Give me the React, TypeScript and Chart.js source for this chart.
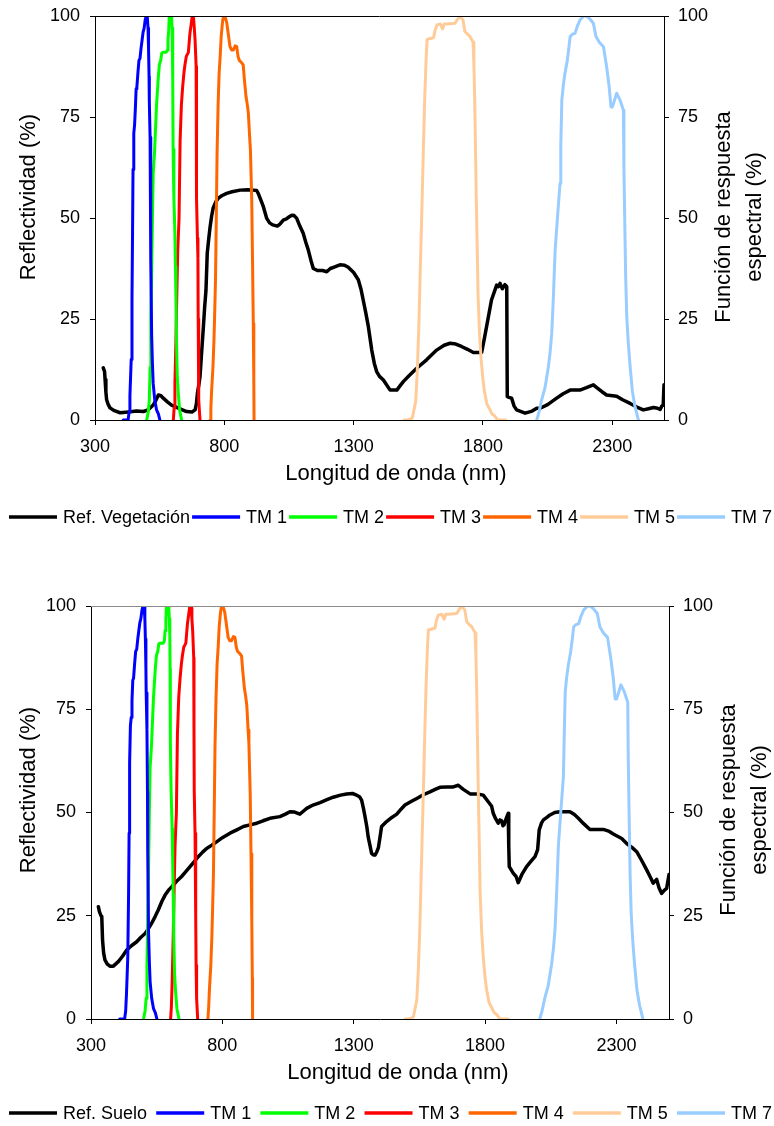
import React, { useEffect, useRef } from 'react';
import { Chart, registerables } from 'chart.js';

Chart.register(...registerables);

const FONT = '"Liberation Sans", Arial, Helvetica, sans-serif';
Chart.defaults.font.family = FONT;

// ---------- axis ticks ----------
const xTickValues = [300, 800, 1300, 1800, 2300];
const yTickValues = [0, 25, 50, 75, 100];

// ---------- Landsat TM band response functions (%) ----------
const tm1Nm = [409, 428, 432, 435, 440, 443, 445, 447, 450, 453, 456, 459, 462, 466, 470, 474, 478, 482, 486, 490, 494, 498, 502, 505, 507, 509, 510, 513, 515, 516, 519, 522, 525, 531, 538, 545, 551];
const tm1Resp = [0, 0, 2, 6, 15, 30, 45, 62, 71, 73, 77, 82, 82.5, 86, 89, 89.5, 92, 94, 96, 97, 99, 100, 100, 97, 92, 85, 79, 70, 55, 40, 21, 14, 9, 5, 2.5, 1.5, 0];

const tm2Nm = [500, 506, 510, 513, 516, 519, 522, 525, 530, 534, 538, 542, 545, 549, 554, 558, 562, 575, 579, 582, 585, 587, 596, 598, 600, 601, 602, 605, 609, 611, 613, 615, 618, 622, 627, 635];
const tm2Resp = [0, 2, 5, 13, 25, 36, 50, 61, 66, 72, 78, 82, 85, 88, 89, 90.8, 91, 91, 91.5, 94, 96.5, 100, 100, 97, 93, 85, 67, 55, 46, 38, 30, 20, 11, 6.6, 2.5, 0];

const tm3Nm = [603, 606, 609, 613, 616, 620, 625, 629, 634, 639, 644, 648, 653, 661, 667, 672, 676, 681, 684, 687, 691, 692, 693, 696, 698, 699, 700, 702, 706];
const tm3Resp = [0, 3, 9, 20, 30, 42, 50, 69, 78, 82.5, 86, 88, 90, 91, 95.7, 98, 100, 99.5, 97, 94, 87.5, 70, 55, 45, 40, 25, 13, 5, 0];

const tm4Nm = [745, 748, 751, 756, 760, 763, 766, 769, 772, 776, 780, 784, 788, 793, 797, 802, 809, 815, 822, 828, 835, 842, 848, 853, 858, 866, 873, 878, 884, 889, 893, 898, 901, 906, 909, 912, 914, 915];
const tm4Resp = [0, 3, 7.4, 13, 19.8, 27, 35, 50, 66, 78, 86, 90, 95, 98.5, 100, 100, 98.5, 95.7, 92.4, 91.6, 91.6, 92.6, 92.4, 90, 89, 88.5, 87.9, 84, 80, 78, 75.9, 70, 66.8, 54.5, 40, 23.9, 10, 0];

const tm5Nm = [1495, 1510, 1527, 1540, 1546, 1552, 1558, 1565, 1570, 1575, 1580, 1584, 1600, 1609, 1615, 1622, 1635, 1644, 1650, 1660, 1692, 1700, 1711, 1723, 1730, 1740, 1749, 1762, 1765, 1768, 1771, 1774, 1778, 1781, 1787, 1793, 1800, 1806, 1815, 1825, 1835, 1844, 1857, 1888];
const tm5Resp = [0, 0, 0.5, 4.6, 12, 23, 38, 55, 68, 80, 89, 94.2, 94.5, 94.6, 96.5, 97.8, 98, 96.8, 98, 98, 98.2, 99, 100, 99, 96.2, 95.5, 95, 93.5, 88, 79.7, 68, 55.4, 42, 31, 21, 15, 10, 7, 4, 2.8, 1.5, 1.1, 0, 0];

const tm7Nm = [2008, 2017, 2027, 2040, 2053, 2060, 2066, 2072, 2079, 2088, 2098, 2101, 2105, 2111, 2117, 2126, 2132, 2137, 2146, 2156, 2165, 2175, 2190, 2198, 2210, 2227, 2237, 2250, 2266, 2278, 2288, 2295, 2300, 2305, 2317, 2324, 2330, 2343, 2345, 2349, 2352, 2356, 2362, 2369, 2378, 2388, 2401];
const tm7Resp = [0, 2, 5, 8, 13.2, 17, 21.5, 30, 42, 50, 58.6, 68, 79.2, 83, 85.8, 89, 92, 94.9, 95.5, 95.7, 97.5, 99, 100, 100, 99.5, 98.2, 94.9, 93.5, 92.4, 87.5, 82.5, 77.5, 77.5, 78.4, 80.9, 80, 79.2, 76.7, 62.7, 46.2, 35, 25.6, 19, 13.2, 7, 3.3, 0];

// ---------- reference reflectance curves (%) ----------
const vegNm = [332, 337, 339, 342, 345, 350, 358, 375, 397, 430, 460, 487, 505, 525, 535, 545, 555, 564, 580, 596, 620, 654, 675, 687, 692, 696, 701, 706, 712, 719, 724, 729, 734, 740, 745, 751, 757, 767, 777, 790, 809, 830, 861, 890, 912, 925, 931, 941, 951, 964, 975, 987, 1005, 1015, 1028, 1040, 1051, 1061, 1070, 1080, 1092, 1105, 1115, 1125, 1135, 1144, 1160, 1180, 1196, 1210, 1222, 1247, 1265, 1279, 1300, 1318, 1328, 1337, 1347, 1357, 1370, 1380, 1389, 1400, 1415, 1441, 1467, 1480, 1492, 1515, 1544, 1582, 1621, 1650, 1673, 1695, 1717, 1740, 1763, 1795, 1805, 1814, 1833, 1853, 1860, 1866, 1875, 1885, 1892, 1894, 1900, 1911, 1920, 1930, 1963, 1990, 2008, 2021, 2050, 2085, 2110, 2137, 2175, 2200, 2227, 2240, 2260, 2278, 2317, 2340, 2369, 2395, 2420, 2440, 2459, 2475, 2485, 2492, 2497, 2500];
const vegRefl = [12.9, 12, 10, 7, 5, 4, 3, 2.3, 1.8, 2, 2.2, 2.1, 2.5, 3.7, 4.8, 6.2, 6, 5.4, 4.5, 3.7, 3, 2.1, 2, 2.5, 4, 6.6, 8.5, 10.7, 16.5, 23, 28, 32, 41.3, 45, 47.8, 50.5, 52.5, 54, 54.9, 55.5, 56.1, 56.5, 56.9, 57, 56.9, 56.8, 56.1, 54.5, 52.8, 49.9, 48.8, 48.3, 48, 48.5, 49.5, 49.8, 50.3, 50.7, 50.6, 49.9, 48, 46.2, 44, 42, 39.5, 37.5, 37, 37, 36.7, 37.5, 37.8, 38.4, 38.3, 37.8, 36.5, 34.7, 32.5, 29.7, 26.5, 23.1, 17.3, 14, 12, 10.8, 9.9, 7.4, 7.4, 8.5, 9.5, 11, 12.8, 14.9, 17.3, 18.5, 19, 18.8, 18.2, 17.5, 16.7, 16.7, 20, 23.1, 29.7, 33.4, 33, 33.8, 32.5, 33.5, 33, 5.8, 5.6, 5.4, 3.5, 2.5, 1.7, 2.2, 2.9, 2.9, 3.8, 5.4, 6.5, 7.4, 7.4, 8, 8.7, 8, 7, 6.2, 5.9, 5, 4.1, 3.2, 2.5, 2.8, 3.1, 2.9, 2.6, 3.5, 3.7, 8.7];

const soilNm = [328, 332, 338, 341, 344, 348, 353, 362, 372, 385, 404, 420, 436, 455, 474, 490, 506, 518, 531, 544, 556, 570, 582, 595, 607, 625, 645, 660, 677, 693, 708, 725, 740, 760, 778, 800, 829, 855, 880, 905, 931, 955, 981, 1019, 1040, 1057, 1075, 1095, 1108, 1121, 1145, 1172, 1198, 1222, 1250, 1273, 1295, 1311, 1322, 1330, 1337, 1343, 1350, 1355, 1362, 1368, 1375, 1381, 1388, 1394, 1400, 1406, 1425, 1445, 1464, 1480, 1495, 1520, 1540, 1565, 1590, 1610, 1628, 1655, 1679, 1698, 1717, 1743, 1770, 1793, 1812, 1825, 1831, 1840, 1850, 1857, 1863, 1868, 1872, 1880, 1888, 1890, 1892, 1907, 1918, 1926, 1940, 1958, 1975, 1990, 2000, 2006, 2015, 2022, 2035, 2047, 2065, 2085, 2123, 2140, 2155, 2175, 2199, 2250, 2270, 2288, 2320, 2339, 2360, 2377, 2395, 2415, 2430, 2440, 2453, 2462, 2472, 2483, 2491, 2500];
const soilRefl = [27.2, 26, 25, 24.8, 19.1, 16, 14.3, 13.3, 12.8, 12.8, 13.9, 15.2, 16.7, 17.8, 18.7, 19.8, 20.7, 21.8, 23.2, 24.8, 26.4, 28.5, 30, 31.2, 32, 33.3, 34.5, 35.6, 36.9, 38.1, 39.3, 40.4, 41.3, 42.1, 42.9, 43.9, 45, 45.8, 46.6, 47, 47.4, 48, 48.6, 49, 49.6, 50.2, 50.1, 49.6, 50.3, 51, 51.8, 52.4, 53.1, 53.7, 54.2, 54.5, 54.6, 54.2, 53.8, 53, 51, 49, 46.5, 44.1, 42, 40.1, 39.7, 39.7, 40.5, 41.5, 44, 46.6, 47.8, 48.8, 49.6, 50.8, 51.8, 52.7, 53.4, 54.3, 55, 55.6, 56.1, 56.2, 56.2, 56.6, 55.6, 54.5, 54.5, 54.2, 52.6, 51.5, 49.8, 48.5, 47.4, 48.2, 48, 46.8, 47, 48.5, 49.8, 42, 36.9, 35.3, 34.5, 33, 35, 36.9, 38.2, 39.3, 41, 45.8, 47.5, 48.2, 48.8, 49.4, 50, 50.2, 50.2, 49.5, 48.6, 47.3, 45.9, 45.9, 45.5, 44.8, 43.7, 42.5, 41.5, 40.5, 38.5, 36.1, 34.2, 32.9, 33.8, 31.8, 30.4, 31.2, 31.6, 35];

const bandLabels = ['TM 1', 'TM 2', 'TM 3', 'TM 4', 'TM 5', 'TM 7'];
const bandColors = ['#0000FF', '#00FF00', '#FF0000', '#FF6600', '#FFCC99', '#99CCFF'];
const bandNm = [tm1Nm, tm2Nm, tm3Nm, tm4Nm, tm5Nm, tm7Nm];
const bandResp = [tm1Resp, tm2Resp, tm3Resp, tm4Resp, tm5Resp, tm7Resp];

const W = 774;

type Panel = {
  refLabel: string;
  refNm: number[];
  refVal: number[];
  canvasH: number;
  plotLeft: number;
  plotRight: number;
  plotTop: number;
  plotBottom: number;
  topBorderColor: string;
  leftTitleX: number;
  leftTitleY: number;
  rightTitleX1: number;
  rightTitleX2: number;
  rightTitleY: number;
  xTitleX: number;
  xTitleY: number;
  legendY: number;
  legendLeft: number;
  legendRight: number;
};

const topPanel: Panel = {
  refLabel: 'Ref. Vegetación', refNm: vegNm, refVal: vegRefl,
  canvasH: 545, plotLeft: 95, plotRight: 664, plotTop: 16, plotBottom: 420,
  topBorderColor: '#000000',
  leftTitleX: 29, leftTitleY: 197,
  rightTitleX1: 724, rightTitleX2: 755, rightTitleY: 217,
  xTitleX: 396, xTitleY: 480,
  legendY: 517, legendLeft: 9, legendRight: 768,
};

const bottomPanel: Panel = {
  refLabel: 'Ref. Suelo', refNm: soilNm, refVal: soilRefl,
  canvasH: 566, plotLeft: 91, plotRight: 669, plotTop: 46, plotBottom: 459,
  topBorderColor: '#8c8c8c',
  leftTitleX: 29, leftTitleY: 230,
  rightTitleX1: 729, rightTitleX2: 760, rightTitleY: 250,
  xTitleX: 398, xTitleY: 519,
  legendY: 553, legendLeft: 9, legendRight: 772,
};

function pairs(xs: number[], ys: number[]) {
  return xs.map((x, i) => ({ x, y: ys[i] }));
}

const decorPlugin = {
  id: 'decor',
  afterDraw(chart: any, _args: any, opts: any) {
    const ctx: CanvasRenderingContext2D = chart.ctx;
    const ca = chart.chartArea;
    ctx.save();
    // top frame line
    ctx.strokeStyle = opts.topBorderColor;
    ctx.lineWidth = 1;
    ctx.beginPath();
    ctx.moveTo(ca.left, Math.round(ca.top) + 0.5);
    ctx.lineTo(ca.right, Math.round(ca.top) + 0.5);
    ctx.stroke();

    // axis titles
    ctx.fillStyle = '#000';
    ctx.font = `22px ${FONT}`;
    ctx.textAlign = 'center';
    ctx.textBaseline = 'middle';
    ctx.save();
    ctx.translate(opts.leftTitleX, opts.leftTitleY);
    ctx.rotate(-Math.PI / 2);
    ctx.fillText('Reflectividad (%)', 0, 0);
    ctx.restore();

    ctx.save();
    ctx.translate(opts.rightTitleX1, opts.rightTitleY);
    ctx.rotate(-Math.PI / 2);
    ctx.fillText('Función de respuesta', 0, 0);
    ctx.restore();
    ctx.save();
    ctx.translate(opts.rightTitleX2, opts.rightTitleY);
    ctx.rotate(-Math.PI / 2);
    ctx.fillText('espectral (%)', 0, 0);
    ctx.restore();

    ctx.textBaseline = 'alphabetic';
    ctx.fillText('Longitud de onda (nm)', opts.xTitleX, opts.xTitleY);

    // legend
    ctx.font = `18px ${FONT}`;
    const items = chart.data.datasets.map((d: any) => ({ label: d.label, color: d.borderColor }));
    const lineLen = 48;
    const textGap = 6;
    const widths = items.map((it: any) => lineLen + textGap + ctx.measureText(it.label).width);
    const total = widths.reduce((a: number, b: number) => a + b, 0);
    const gap = Math.max(2, (opts.legendRight - opts.legendLeft - total) / (items.length - 1));
    let x = opts.legendLeft;
    const y = opts.legendY;
    ctx.textAlign = 'left';
    ctx.textBaseline = 'middle';
    items.forEach((it: any, i: number) => {
      ctx.strokeStyle = it.color;
      ctx.lineWidth = 3.5;
      ctx.lineCap = 'butt';
      ctx.beginPath();
      ctx.moveTo(x, y);
      ctx.lineTo(x + lineLen, y);
      ctx.stroke();
      ctx.fillStyle = '#000';
      ctx.fillText(it.label, x + lineLen + textGap, y + 1);
      x += widths[i] + gap;
    });
    ctx.restore();
  },
};

function buildConfig(p: Panel): any {
  const datasets: any[] = [
    {
      label: p.refLabel,
      data: pairs(p.refNm, p.refVal),
      borderColor: '#000000',
      backgroundColor: '#000000',
      borderWidth: 3.5,
      yAxisID: 'y',
      order: 2,
    },
    ...bandLabels.map((label, i) => ({
      label,
      data: pairs(bandNm[i], bandResp[i]),
      borderColor: bandColors[i],
      backgroundColor: bandColors[i],
      borderWidth: 3,
      yAxisID: 'y2',
      order: 1,
    })),
  ];

  const tickFont = { size: 18, family: FONT };
  const gridOpts = { drawOnChartArea: false, drawTicks: true, tickLength: 5, color: '#000000', lineWidth: 1 };
  const borderOpts = { display: true, color: '#000000', width: 1 };
  const setYTicks = (s: any) => { s.ticks = yTickValues.map((v) => ({ value: v })); };
  const plainLabel = (v: any) => String(v);

  return {
    type: 'line',
    data: { datasets },
    options: {
      animation: false,
      responsive: false,
      maintainAspectRatio: false,
      layout: { padding: { top: p.plotTop, left: 0, right: 0, bottom: 0 } },
      plugins: {
        legend: { display: false },
        tooltip: { enabled: false },
        decor: p,
      },
      elements: {
        point: { radius: 0, hoverRadius: 0 },
        line: { tension: 0, borderJoinStyle: 'round', borderCapStyle: 'round', fill: false },
      },
      scales: {
        x: {
          type: 'linear',
          min: 300,
          max: 2500,
          afterBuildTicks: (s: any) => { s.ticks = xTickValues.map((v) => ({ value: v })); },
          afterFit: (s: any) => {
            s.height = p.canvasH - p.plotBottom;
            s.paddingLeft = 0;
            s.paddingRight = 0;
          },
          grid: gridOpts,
          border: borderOpts,
          ticks: { font: tickFont, color: '#000', padding: 11, maxRotation: 0, autoSkip: false, callback: plainLabel },
        },
        y: {
          type: 'linear',
          position: 'left',
          min: 0,
          max: 100,
          afterBuildTicks: setYTicks,
          afterFit: (s: any) => {
            s.width = p.plotLeft;
            s.paddingTop = 0;
            s.paddingBottom = 0;
          },
          grid: gridOpts,
          border: borderOpts,
          ticks: { font: tickFont, color: '#000', padding: 10, callback: plainLabel },
        },
        y2: {
          type: 'linear',
          position: 'right',
          min: 0,
          max: 100,
          afterBuildTicks: setYTicks,
          afterFit: (s: any) => {
            s.width = W - p.plotRight;
            s.paddingTop = 0;
            s.paddingBottom = 0;
          },
          grid: gridOpts,
          border: borderOpts,
          ticks: { font: tickFont, color: '#000', padding: 9, callback: plainLabel },
        },
      },
    },
    plugins: [decorPlugin],
  };
}

export default function App() {
  const topRef = useRef<HTMLCanvasElement>(null);
  const botRef = useRef<HTMLCanvasElement>(null);

  useEffect(() => {
    const c1 = new Chart(topRef.current as HTMLCanvasElement, buildConfig(topPanel));
    const c2 = new Chart(botRef.current as HTMLCanvasElement, buildConfig(bottomPanel));
    return () => {
      c1.destroy();
      c2.destroy();
    };
  }, []);

  return (
    <div style={{ position: 'absolute', left: 0, top: 0, width: W, height: 1126, background: '#ffffff' }}>
      <canvas
        ref={topRef}
        width={W}
        height={topPanel.canvasH}
        style={{ position: 'absolute', left: 0, top: 0, width: W, height: topPanel.canvasH }}
      />
      <canvas
        ref={botRef}
        width={W}
        height={bottomPanel.canvasH}
        style={{ position: 'absolute', left: 0, top: 560, width: W, height: bottomPanel.canvasH }}
      />
    </div>
  );
}
